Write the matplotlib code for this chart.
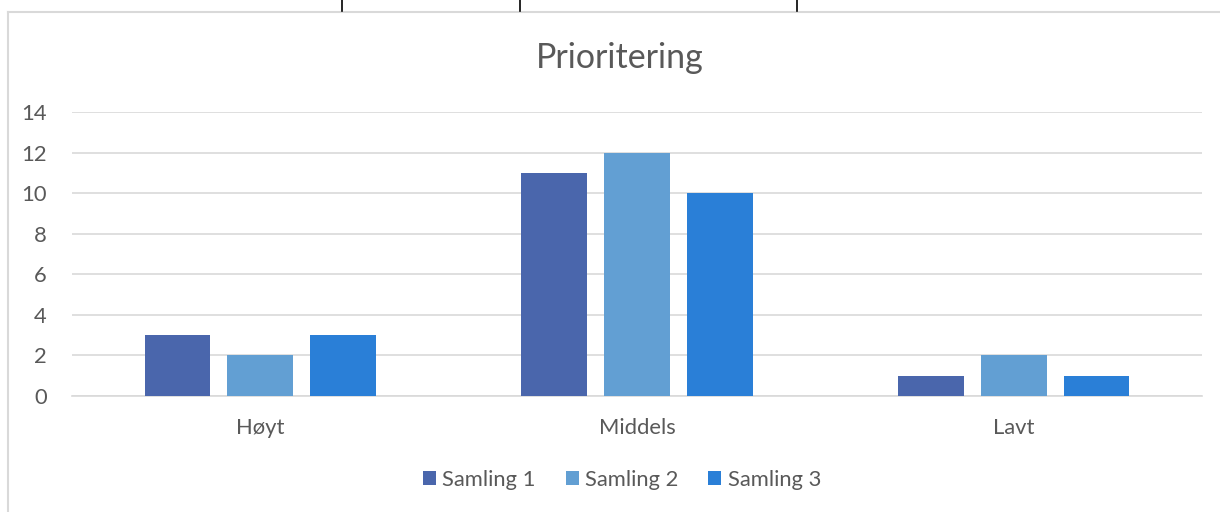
import matplotlib
matplotlib.use("Agg")
import matplotlib.pyplot as plt
import numpy as np
from matplotlib.lines import Line2D

categories = ["Høyt", "Middels", "Lavt"]
series_names = ["Samling 1", "Samling 2", "Samling 3"]
samling1 = [3, 11, 1]
samling2 = [2, 12, 2]
samling3 = [3, 10, 1]
yticks = [0, 2, 4, 6, 8, 10, 12, 14]
colors = ["#4A66AC", "#629FD3", "#2A7FD7"]

plt.rcParams['font.family'] = ['Lato', 'DejaVu Sans']

fig = plt.figure(figsize=(12.2, 5.12), dpi=100)
W, H = 1220, 512
ax = fig.add_axes([72 / W, 1 - 396 / H, 1130 / W, 284 / H])

x = np.arange(len(categories))
bw = 0.175
offs = [-0.22, 0.0, 0.22]
for vals, off, c, name in zip([samling1, samling2, samling3], offs, colors, series_names):
    ax.bar(x + off, vals, width=bw, color=c, label=name, zorder=3)

ax.set_xlim(-0.5, 2.5)
ax.set_ylim(0, 14)
ax.set_yticks(yticks)
ax.set_xticks(x)
ax.set_xticklabels(categories)
ax.tick_params(axis='both', length=0, labelsize=15.8, colors="#595959")
ax.tick_params(axis='y', pad=18)
ax.tick_params(axis='x', pad=16)
ax.grid(axis='y', color="#D9D9D9", linewidth=1.2, zorder=0)
for s in ["top", "right", "left"]:
    ax.spines[s].set_visible(False)
ax.spines["bottom"].set_color("#D9D9D9")
ax.spines["bottom"].set_linewidth(1.2)

fig.text(620 / W, 1 - 58 / H, "Prioritering", ha="center", va="center",
         fontsize=24.5, color="#595959")

leg = ax.legend(loc="center", bbox_to_anchor=(622 / W, 1 - 480 / H),
                bbox_transform=fig.transFigure, ncol=3, frameon=False,
                fontsize=15.8, handlelength=0.6, handleheight=0.6,
                handletextpad=0.3, columnspacing=1.35)
for t in leg.get_texts():
    t.set_color("#595959")

# chart border and table lines above
fig.add_artist(Line2D([8 / W, 8 / W], [0, 1 - 12 / H], transform=fig.transFigure,
                      color="#D9D9D9", linewidth=1.5))
fig.add_artist(Line2D([8 / W, 1], [1 - 12 / H, 1 - 12 / H], transform=fig.transFigure,
                      color="#D9D9D9", linewidth=1.5))
for px in [342, 520, 797]:
    fig.add_artist(Line2D([px / W, px / W], [1 - 11 / H, 1], transform=fig.transFigure,
                          color="black", linewidth=1.2))

fig.savefig("out.png", dpi=100)
